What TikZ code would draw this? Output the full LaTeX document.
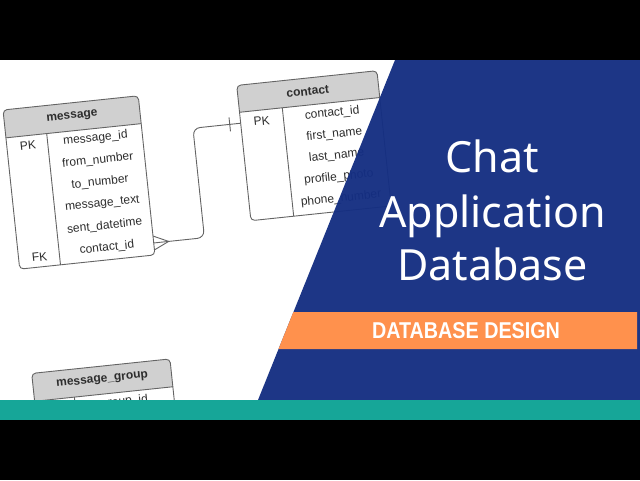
\documentclass[tikz,border=0pt]{standalone}
\usepackage{fontspec}
\setmainfont{Liberation Sans}
\newfontfamily\titlefont{Noto Sans}
\definecolor{bannerblue}{RGB}{20,46,130}
\definecolor{bandorange}{RGB}{255,145,77}
\definecolor{barteal}{RGB}{22,166,152}
\definecolor{hdrgray}{RGB}{208,208,208}
\definecolor{linegray}{RGB}{100,100,100}
\definecolor{txtgray}{RGB}{45,45,45}
\tikzset{
  tblbox/.style={draw=linegray, line width=0.9pt, rounded corners=4},
  tblline/.style={draw=linegray, line width=0.9pt},
  fld/.style={font=\fontsize{12}{14}\selectfont, text=txtgray, inner sep=0pt},
  hdr/.style={font=\bfseries\fontsize{12}{14}\selectfont, text=txtgray, inner sep=0pt},
  conn/.style={draw=linegray, line width=0.9pt},
  titletxt/.style={font=\titlefont\fontsize{43}{50}\selectfont, text=white, anchor=base, inner sep=0pt},
}
\begin{document}
\begin{tikzpicture}[x=1pt,y=-1pt]
\useasboundingbox (0,0) rectangle (640,480);
\fill[white] (0,0) rectangle (640,480);

\begin{scope}[shift={(3,110)}, rotate=6, transform shape]
  % ---------- message table ----------
  \fill[white, rounded corners=4] (0,0) rectangle (136,160);
  \begin{scope}
    \clip[rounded corners=4] (0,0) rectangle (136,160);
    \fill[hdrgray] (0,0) rectangle (136,28);
  \end{scope}
  \draw[tblbox] (0,0) rectangle (136,160);
  \draw[tblline] (0,28) -- (136,28);
  \draw[tblline] (41,28) -- (41,160);
  \node[hdr] (mtitle) at (68,14) {message};
  \node[fld] (mpk) at (21,38) {PK};
  \node[fld] (mf1) at (89,38) {message\_id};
  \node[fld] (mf2) at (89,60) {from\_number};
  \node[fld] (mf3) at (89,82) {to\_number};
  \node[fld] (mf4) at (89,104) {message\_text};
  \node[fld] (mf5) at (89,126) {sent\_datetime};
  \node[fld] (mf6) at (89,148) {contact\_id};
  \node[fld] (mfk) at (21,150) {FK};

  % ---------- contact table ----------
  \fill[white, rounded corners=4] (235,0) rectangle (376,136);
  \begin{scope}
    \clip[rounded corners=4] (235,0) rectangle (376,136);
    \fill[hdrgray] (235,0) rectangle (376,27);
  \end{scope}
  \draw[tblbox] (235,0) rectangle (376,136);
  \draw[tblline] (235,27) -- (376,27);
  \draw[tblline] (278,27) -- (278,136);
  \node[hdr] (ctitle) at (305,13.5) {contact};
  \node[fld] (cpk) at (256,38) {PK};
  \node[fld] (cf1) at (327,37.5) {contact\_id};
  \node[fld] (cf2) at (327,59) {first\_name};
  \node[fld] (cf3) at (327,80.5) {last\_name};
  \node[fld] (cf4) at (327,102) {profile\_photo};
  \node[fld] (cf5) at (327,123.5) {phone\_number};

  % ---------- message_group table ----------
  \fill[white, rounded corners=4] (1,265) rectangle (140,340);
  \begin{scope}
    \clip[rounded corners=4] (1,265) rectangle (140,340);
    \fill[hdrgray] (1,265) rectangle (140,293);
  \end{scope}
  \draw[tblbox] (1,265) rectangle (140,340);
  \draw[tblline] (1,293) -- (140,293);
  \draw[tblline] (41,293) -- (41,340);
  \node[hdr] (gtitle) at (70.5,279) {message\_group};
  \node[fld] (gf1) at (90.5,303) {group\_id};

  % ---------- relationship ----------
  \coordinate (mcid) at (136,148);
  \coordinate (bendA) at (187,148);
  \coordinate (bendB) at (187,38);
  \coordinate (ccid) at (235,38);
  \draw[conn, rounded corners=7] (mcid) -- (bendA) -- (bendB) -- (ccid);
  \draw[conn] (136,141) -- (151,148) -- (136,155);
  \draw[conn] (224,31) -- (224,45);
\end{scope}

% ---------- banner ----------
\fill[bannerblue, opacity=0.96] (395,60) -- (640,60) -- (640,400) -- (258,400) -- cycle;
\fill[bandorange] (293.4,312) -- (637,312) -- (637,349) -- (278.5,349) -- cycle;

\node[titletxt] (t1) at (492.5,172) {Chat};
\node[titletxt] (t2) at (492.5,227) {Application};
\node[titletxt] (t3) at (492.5,280) {Database};
\node[anchor=base, inner sep=0pt, text=white] (sub) at (466,338)
  {\resizebox{188pt}{16pt}{\bfseries DATABASE DESIGN}};

% ---------- bars ----------
\fill[barteal] (0,400) rectangle (640,420);
\fill[black] (0,0) rectangle (640,60);
\fill[black] (0,420) rectangle (640,480);
\end{tikzpicture}
\end{document}
